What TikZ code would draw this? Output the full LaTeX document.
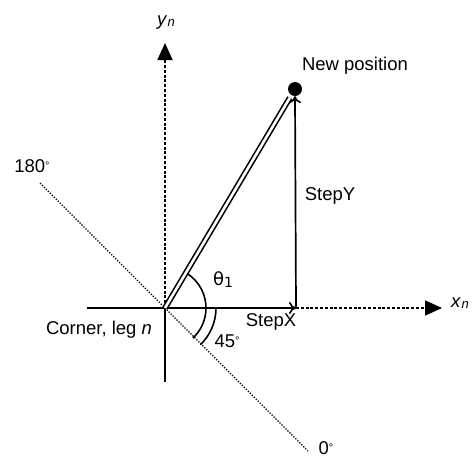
\documentclass[tikz,border=0pt]{standalone}
\usepackage{fontspec}
\setmainfont{Liberation Sans}
\usetikzlibrary{arrows.meta,calc}
\begin{document}
\begin{tikzpicture}[x=1pt,y=-1pt,
  lbl/.style={inner sep=0pt, font=\fontsize{18.5}{20}\selectfont},
  axisline/.style={line width=1.7pt},
  dashaxis/.style={line width=1.6pt, dash pattern=on 3pt off 1.8pt},
  diag/.style={line width=1.3pt, dash pattern=on 1.3pt off 1.5pt},
  bigtip/.style={-{Triangle[length=17pt,width=15pt]}},
  opentip/.style={-{To[length=7pt,width=12pt,line width=1.6pt]}}]
\useasboundingbox (0,0) rectangle (476,458);
\coordinate (O) at (165,308);
\coordinate (XA) at (87,308);
\coordinate (XB) at (296,308);
\coordinate (XE) at (442,308);
\coordinate (YE) at (165,43);
\coordinate (YB) at (165,382);
\coordinate (D1) at (40,183);
\coordinate (D2) at (308,451);
\node[circle, fill=black, inner sep=0pt, minimum size=14pt] (P) at (295,89) {};
% axes
\draw[axisline] (XA) -- (XB);
\draw[dashaxis, bigtip] (XB) -- (XE);
\draw[dashaxis, bigtip] (O) -- (YE);
\draw[axisline] (O) -- (YB);
\draw[diag] (D1) -- (D2);
% arrows
\draw[axisline, opentip] (O) -- (XB);
\draw[axisline, opentip] (XB) -- (P.south);
\draw[line width=1.6pt, double, double distance=2.6pt, shorten >=3pt] (O) -- (P);
% arcs
\draw[line width=1.6pt] ($(O)+(57:41pt)$) arc[start angle=57, end angle=-47, radius=41pt];
\draw[line width=1.6pt] ($(O)+(0:51pt)$) arc[start angle=0, end angle=-46, radius=51pt];
% labels
\node[lbl] (ly) at (166,23) {\textit{y}\kern0.5pt\raisebox{-1pt}{\fontsize{13}{13}\selectfont\textit{n}}};
\node[lbl] (lx) at (460,303) {\textit{x}\kern0.5pt\raisebox{-1pt}{\fontsize{13}{13}\selectfont\textit{n}}};
\node[lbl] (lnp) at (355,66) {New position};
\node[lbl] (l180) at (32,166) {180\raisebox{3pt}{\fontsize{11}{11}\selectfont °}};
\node[lbl] (lsy) at (330,196) {StepY};
\node[lbl] (lth) at (223,280) {\fontspec{DejaVu Sans}\fontsize{18}{20}\selectfont θ\raisebox{-2pt}{\fontsize{14}{14}\selectfont 1}};
\node[lbl] (lsx) at (271,322) {StepX};
\node[lbl] (l45) at (227,341) {45\raisebox{3pt}{\fontsize{11}{11}\selectfont °}};
\node[lbl] (lc) at (99,330) {Corner, leg \textit{n}};
\node[lbl] (l0) at (326,448) {0\raisebox{3pt}{\fontsize{11}{11}\selectfont °}};
\end{tikzpicture}
\end{document}
